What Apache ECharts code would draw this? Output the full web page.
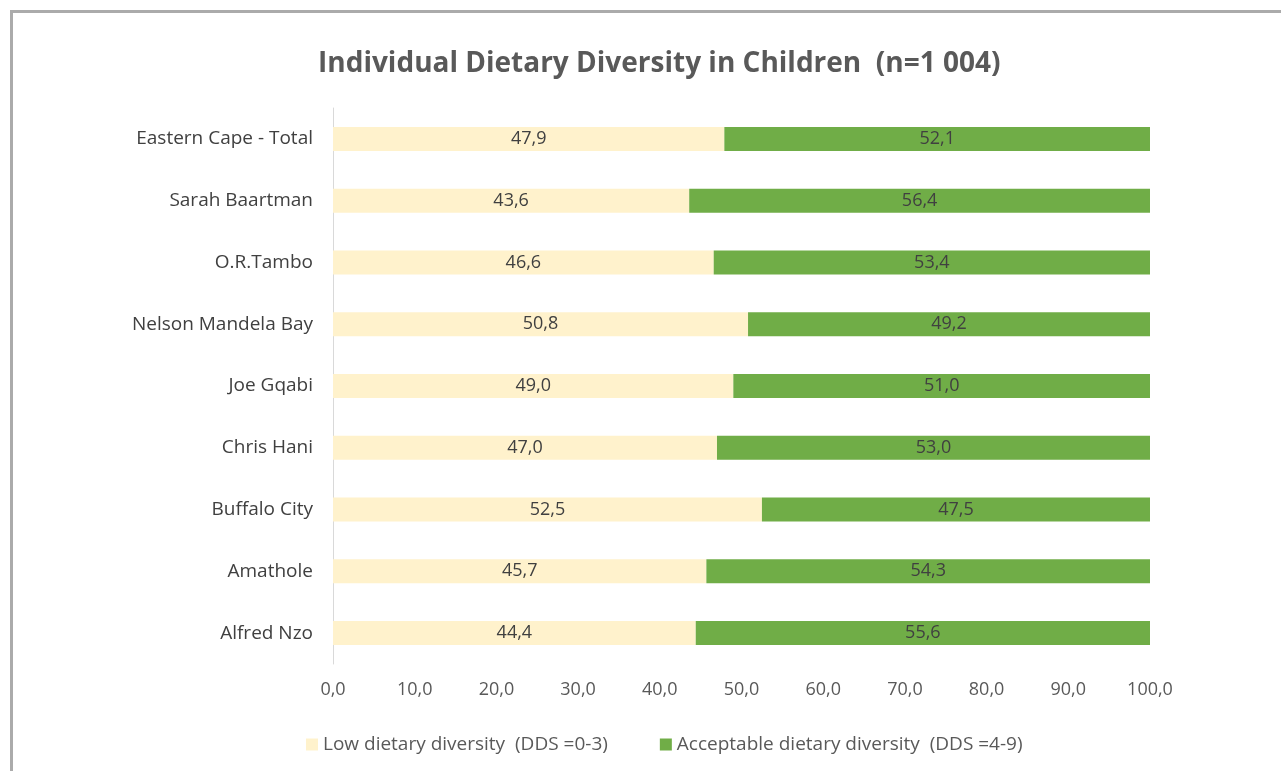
<!DOCTYPE html>
<html>
<head>
<meta charset="utf-8">
<script src="https://cdn.jsdelivr.net/npm/echarts@6/dist/echarts.min.js"></script>
<style>
html,body{margin:0;padding:0;background:#fff;overflow:hidden;}
#frame{position:absolute;left:10px;top:10px;width:1300px;height:800px;border:3px solid #ababab;box-sizing:border-box;}
#chart{position:absolute;left:0;top:0;width:1281px;height:771px;}
</style>
</head>
<body>
<div id="frame"></div>
<div id="chart"></div>
<script>
const titleText = 'Individual Dietary Diversity in Children  (n=1 004)';
const categories = ['Eastern Cape - Total','Sarah Baartman','O.R.Tambo','Nelson Mandela Bay','Joe Gqabi','Chris Hani','Buffalo City','Amathole','Alfred Nzo'];
const lowValues = [47.9,43.6,46.6,50.8,49.0,47.0,52.5,45.7,44.4];
const acceptableValues = [52.1,56.4,53.4,49.2,51.0,53.0,47.5,54.3,55.6];
const seriesNames = ['Low dietary diversity  (DDS =0-3)','Acceptable dietary diversity  (DDS =4-9)'];
const xTicks = [0,10,20,30,40,50,60,70,80,90,100];

const FONT = '"Open Sans", Lato, sans-serif';
const fmt = v => v.toFixed(1).replace('.', ',');
const chart = echarts.init(document.getElementById('chart'));
chart.setOption({
  backgroundColor: 'transparent',
  animation: false,
  title: {
    text: titleText, left: 313, top: 45,
    textStyle: {fontFamily: FONT, fontSize: 28, fontWeight: 'bold', color: '#595959'}
  },
  legend: {
    left: 301, top: 730, itemWidth: 12, itemHeight: 12, itemGap: 52, icon: 'rect',
    textStyle: {fontFamily: FONT, fontSize: 19, color: '#595959'},
    data: seriesNames
  },
  grid: {left: 333, right: 131, top: 108, bottom: 107},
  xAxis: {
    type: 'value', min: xTicks[0], max: xTicks[xTicks.length-1], interval: 10,
    axisLine: {show: false}, axisTick: {show: false}, splitLine: {show: false},
    axisLabel: {fontFamily: FONT, fontSize: 18, color: '#595959', margin: 17, formatter: v => fmt(v)}
  },
  yAxis: {
    type: 'category', data: categories, inverse: true,
    axisLine: {show: true, lineStyle: {color: '#d9d9d9', width: 1}},
    axisTick: {show: false},
    axisLabel: {fontFamily: FONT, fontSize: 19, color: '#404040', margin: 20}
  },
  series: [
    {
      name: seriesNames[0], type: 'bar', stack: 'a', data: lowValues, barWidth: 24,
      itemStyle: {color: '#FFF2CC'},
      label: {show: true, position: 'inside', fontFamily: FONT, fontSize: 18, color: '#404040', formatter: p => fmt(p.value)}
    },
    {
      name: seriesNames[1], type: 'bar', stack: 'a', data: acceptableValues, barWidth: 24,
      itemStyle: {color: '#70AD47'},
      label: {show: true, position: 'inside', fontFamily: FONT, fontSize: 18, color: '#404040', formatter: p => fmt(p.value)}
    }
  ]
});
</script>
</body>
</html>
